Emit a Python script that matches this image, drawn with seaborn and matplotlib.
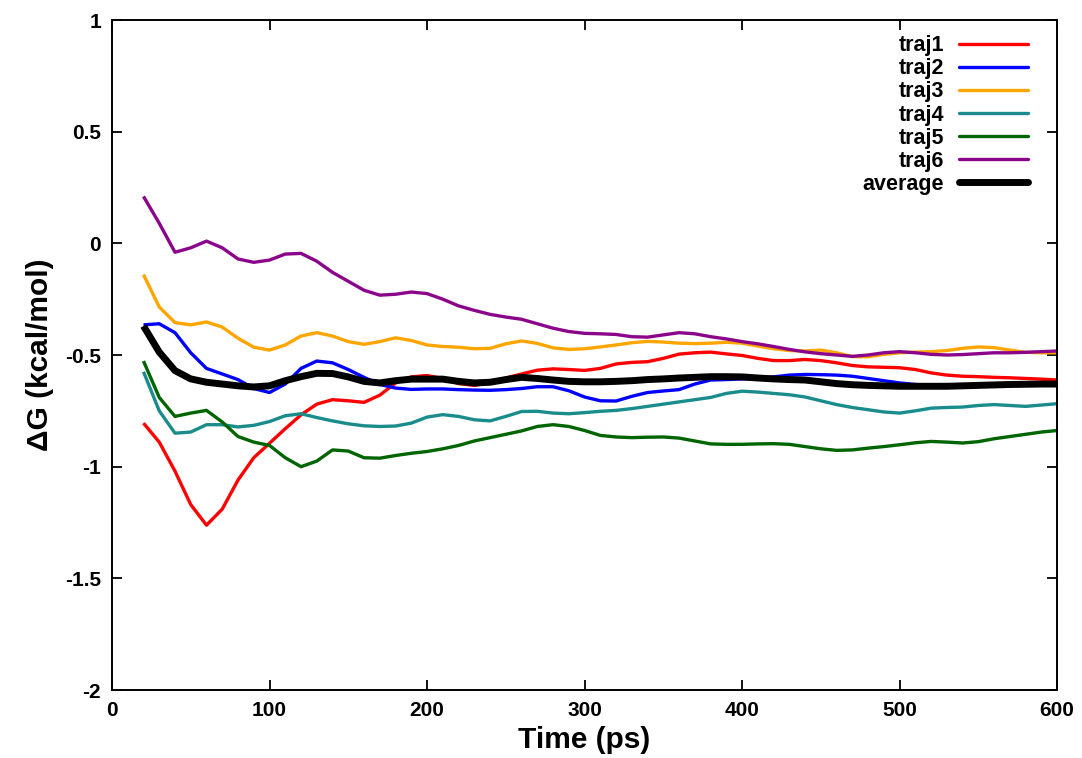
import matplotlib

matplotlib.use("Agg")
import matplotlib.pyplot as plt
import pandas as pd
import seaborn as sns

# time grid (ps)
time_ps = list(range(20, 601, 10))

traj1 = [
    -0.805, -0.89, -1.02, -1.17, -1.262, -1.19, -1.06, -0.96, -0.895, -0.83,
    -0.768, -0.72, -0.70, -0.705, -0.712, -0.68, -0.625, -0.598, -0.592, -0.605,
    -0.628, -0.636, -0.625, -0.603, -0.585, -0.568, -0.562, -0.565, -0.569, -0.56,
    -0.54, -0.533, -0.53, -0.515, -0.496, -0.49, -0.487, -0.495, -0.502, -0.515,
    -0.525, -0.525, -0.52, -0.525, -0.535, -0.547, -0.553, -0.555, -0.557, -0.565,
    -0.58, -0.59, -0.595, -0.597, -0.60, -0.602, -0.605, -0.608, -0.612,
]
traj2 = [
    -0.365, -0.36, -0.40, -0.49, -0.56, -0.585, -0.61, -0.65, -0.668, -0.63,
    -0.56, -0.527, -0.535, -0.565, -0.60, -0.632, -0.648, -0.654, -0.652, -0.652,
    -0.655, -0.657, -0.658, -0.655, -0.65, -0.642, -0.642, -0.66, -0.688, -0.705,
    -0.706, -0.685, -0.668, -0.661, -0.655, -0.63, -0.612, -0.61, -0.607, -0.605,
    -0.598, -0.59, -0.587, -0.588, -0.59, -0.595, -0.605, -0.615, -0.625, -0.632,
    -0.635, -0.638, -0.64, -0.64, -0.638, -0.635, -0.632, -0.63, -0.628,
]
traj3 = [
    -0.14, -0.285, -0.355, -0.365, -0.352, -0.375, -0.425, -0.465, -0.478, -0.455,
    -0.415, -0.40, -0.415, -0.44, -0.452, -0.44, -0.423, -0.435, -0.455, -0.462,
    -0.465, -0.472, -0.47, -0.45, -0.437, -0.448, -0.468, -0.475, -0.472, -0.464,
    -0.455, -0.445, -0.439, -0.442, -0.447, -0.449, -0.447, -0.443, -0.447, -0.46,
    -0.472, -0.48, -0.482, -0.478, -0.49, -0.507, -0.508, -0.497, -0.49, -0.487,
    -0.485, -0.48, -0.47, -0.464, -0.467, -0.478, -0.488, -0.49, -0.49,
]
traj4 = [
    -0.575, -0.75, -0.85, -0.845, -0.812, -0.812, -0.822, -0.815, -0.798, -0.772,
    -0.763, -0.78, -0.795, -0.808, -0.817, -0.82, -0.818, -0.805, -0.778, -0.767,
    -0.775, -0.79, -0.795, -0.775, -0.753, -0.752, -0.76, -0.763, -0.758, -0.752,
    -0.748, -0.74, -0.73, -0.72, -0.71, -0.70, -0.69, -0.672, -0.662, -0.666,
    -0.672, -0.678, -0.688, -0.705, -0.722, -0.735, -0.745, -0.755, -0.76, -0.75,
    -0.738, -0.735, -0.733, -0.726, -0.722, -0.726, -0.73, -0.724, -0.718,
]
traj5 = [
    -0.527, -0.69, -0.775, -0.76, -0.748, -0.80, -0.865, -0.89, -0.905, -0.96,
    -1.0, -0.975, -0.925, -0.93, -0.96, -0.962, -0.95, -0.94, -0.932, -0.92,
    -0.905, -0.885, -0.87, -0.855, -0.84, -0.82, -0.812, -0.82, -0.838, -0.86,
    -0.867, -0.87, -0.868, -0.867, -0.872, -0.885, -0.898, -0.90, -0.90, -0.898,
    -0.897, -0.90, -0.91, -0.92, -0.927, -0.925, -0.917, -0.91, -0.902, -0.893,
    -0.887, -0.89, -0.894, -0.888, -0.875, -0.865, -0.855, -0.845, -0.838,
]
traj6 = [
    0.21, 0.09, -0.04, -0.02, 0.01, -0.02, -0.07, -0.085, -0.075, -0.048,
    -0.045, -0.08, -0.13, -0.17, -0.21, -0.232, -0.228, -0.218, -0.225, -0.25,
    -0.28, -0.30, -0.318, -0.33, -0.34, -0.36, -0.38, -0.395, -0.403, -0.405,
    -0.408, -0.418, -0.42, -0.41, -0.40, -0.405, -0.418, -0.428, -0.44, -0.45,
    -0.462, -0.475, -0.486, -0.494, -0.50, -0.506, -0.50, -0.49, -0.485, -0.49,
    -0.497, -0.50, -0.498, -0.494, -0.49, -0.49, -0.488, -0.485, -0.482,
]
average = [
    -0.37, -0.487, -0.57, -0.607, -0.622, -0.63, -0.638, -0.643, -0.638, -0.615,
    -0.597, -0.582, -0.583, -0.598, -0.618, -0.625, -0.615, -0.608, -0.608, -0.608,
    -0.618, -0.625, -0.622, -0.61, -0.60, -0.605, -0.612, -0.618, -0.62, -0.62,
    -0.618, -0.615, -0.61, -0.607, -0.603, -0.60, -0.597, -0.597, -0.598, -0.603,
    -0.607, -0.61, -0.612, -0.62, -0.628, -0.633, -0.636, -0.638, -0.64, -0.64,
    -0.64, -0.64, -0.638, -0.636, -0.634, -0.632, -0.631, -0.63, -0.63,
]

series_names = ["traj1", "traj2", "traj3", "traj4", "traj5", "traj6", "average"]
series_values = [traj1, traj2, traj3, traj4, traj5, traj6, average]
series_colors = ["#ff0000", "#0000ff", "#ffa500", "#1a8c8c", "#006400", "#8b058b", "#000000"]
x_ticks = [0, 100, 200, 300, 400, 500, 600]
y_ticks = [-2, -1.5, -1, -0.5, 0, 0.5, 1]
y_tick_labels = ["-2", "-1.5", "-1", "-0.5", "0", "0.5", "1"]


def build_frame() -> pd.DataFrame:
    frames = []
    for name, values in zip(series_names, series_values):
        frames.append(pd.DataFrame({"time": time_ps, "dG": values, "series": name}))
    return pd.concat(frames, ignore_index=True)


def line_width(name: str) -> float:
    return 5.0 if name == "average" else 2.4


sns.set_theme(style="ticks")
plt.rcParams["font.family"] = ["Liberation Sans", "DejaVu Sans"]
plt.rcParams["font.weight"] = "bold"
for key in ["text.color", "axes.labelcolor", "xtick.color", "ytick.color", "axes.edgecolor"]:
    plt.rcParams[key] = "black"

fig = plt.figure(figsize=(10.82, 7.58), dpi=100)
ax = fig.add_axes([0.1035, 0.0897, 0.8735, 0.8839])

plot_df = build_frame()
sns.lineplot(
    data=plot_df,
    x="time",
    y="dG",
    hue="series",
    hue_order=series_names,
    palette=dict(zip(series_names, series_colors)),
    size="series",
    sizes={n: line_width(n) for n in series_names},
    ax=ax,
    legend=False,
)
for line in ax.get_lines():
    line.set_solid_joinstyle("round")
    line.set_solid_capstyle("butt")

ax.set_xlim(0, 600)
ax.set_ylim(-2, 1)
ax.set_xticks(x_ticks)
ax.set_yticks(y_ticks)
ax.set_yticklabels(y_tick_labels)
ax.tick_params(direction="in", length=7, width=1.3, top=True, right=True,
               labelsize=15, pad=8)
for lbl in ax.get_xticklabels() + ax.get_yticklabels():
    lbl.set_fontweight("bold")
for spine in ax.spines.values():
    spine.set_linewidth(1.4)

ax.set_xlabel("Time (ps)", fontsize=21.5, fontweight="bold", labelpad=4)
ax.set_ylabel("\u0394G (kcal/mol)", fontsize=21.5, fontweight="bold", labelpad=8)

handles = [
    plt.Line2D([], [], color=c, lw=line_width(n))
    for n, c in zip(series_names, series_colors)
]
ax.legend(
    handles,
    series_names,
    loc="upper right",
    frameon=False,
    markerfirst=False,
    prop={"size": 15.5, "weight": "bold"},
    handlelength=3.2,
    handletextpad=0.7,
    labelspacing=0.1,
    borderaxespad=0.3,
    bbox_to_anchor=(0.985, 1.0),
)

fig.savefig("out.png", dpi=100)
